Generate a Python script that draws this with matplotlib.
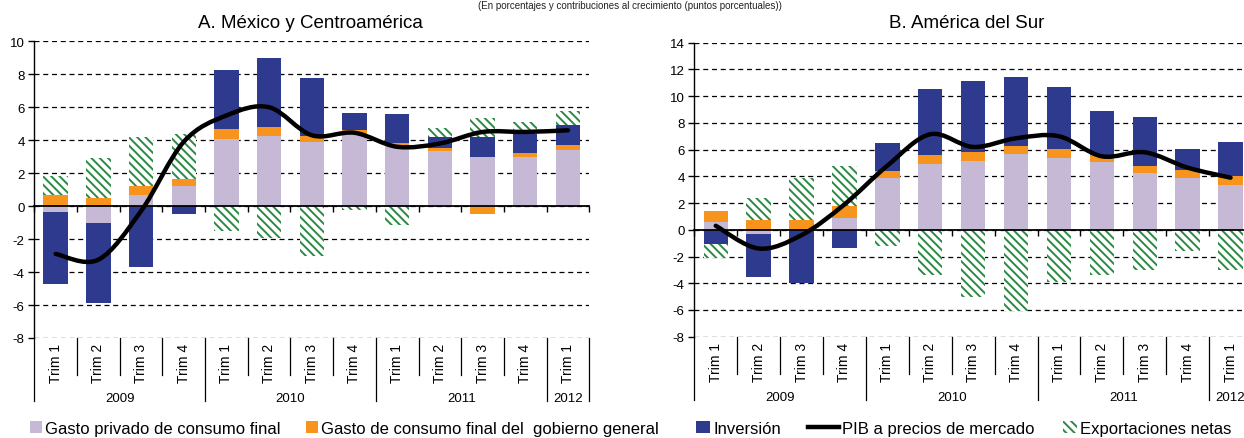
import numpy as np
import matplotlib.pyplot as plt
import matplotlib.transforms as mtransforms
from matplotlib.path import Path
from matplotlib.patches import PathPatch, Patch
from matplotlib.lines import Line2D

plt.rcParams['font.family'] = ['Liberation Sans', 'DejaVu Sans']
plt.rcParams['hatch.linewidth'] = 1.4
plt.rcParams['axes.unicode_minus'] = False

# categories
quarters = ["Trim 1", "Trim 2", "Trim 3", "Trim 4",
            "Trim 1", "Trim 2", "Trim 3", "Trim 4",
            "Trim 1", "Trim 2", "Trim 3", "Trim 4",
            "Trim 1"]
years = ["2009", "2010", "2011", "2012"]
year_sizes = [4, 4, 4, 1]

# A. Mexico y Centroamerica (contributions, percentage points)
mx_priv = [-0.35, -1.0, 0.7, 1.2, 4.1, 4.25, 3.9, 4.35, 3.7, 3.35, 3.0, 3.0, 3.4]
mx_gov = [0.7, 0.5, 0.55, 0.45, 0.55, 0.55, 0.35, 0.25, 0.1, 0.15, -0.45, 0.25, 0.3]
mx_inv = [-4.35, -4.9, -3.7, -0.5, 3.6, 4.2, 3.5, 1.05, 1.8, 0.7, 1.2, 1.1, 1.25]
mx_nx = [1.1, 2.4, 2.95, 2.75, -1.5, -1.95, -3.0, -0.25, -1.15, 0.55, 1.15, 0.75, 0.8]
mx_pib = [-2.9, -3.25, -0.3, 3.9, 5.5, 6.0, 4.3, 4.45, 3.6, 3.8, 4.5, 4.5, 4.6]

# B. America del Sur
sa_priv = [0.6, -0.3, 0.0, 0.9, 3.85, 4.9, 5.15, 5.7, 5.35, 5.05, 4.25, 3.88, 3.36]
sa_gov = [0.8, 0.7, 0.7, 0.85, 0.55, 0.7, 0.65, 0.55, 0.7, 0.55, 0.55, 0.57, 0.64]
sa_inv = [-1.1, -3.2, -3.95, -1.35, 2.1, 4.97, 5.35, 5.2, 4.65, 3.28, 3.63, 1.6, 2.6]
sa_nx = [-1.0, 1.7, 3.15, 3.0, -1.2, -3.4, -5.0, -6.05, -3.9, -3.4, -3.0, -1.55, -3.0]
sa_pib = [0.3, -1.4, -0.4, 1.9, 4.8, 7.15, 6.2, 6.85, 7.0, 5.5, 5.8, 4.65, 3.9]

labels = ["Gasto privado de consumo final",
          "Gasto de consumo final del  gobierno general",
          "Inversión", "PIB a precios de mercado", "Exportaciones netas"]

C_PRIV = '#C5B9D5'
C_GOV = '#F7941E'
C_INV = '#2E3A8E'
C_NX = '#2A8A43'
HATCH = '\\\\\\\\'

W, H = 1244, 439
fig = plt.figure(figsize=(W / 100, H / 100), dpi=100)


def px_axes(left, top, right, bottom):
    return fig.add_axes([left / W, 1 - bottom / H, (right - left) / W, (bottom - top) / H])


def smooth_line(ax, y):
    # Excel-like smoothed line: Catmull-Rom turned into cubic Bezier segments
    pts = np.column_stack([np.arange(len(y)), y]).astype(float)
    ext = np.vstack([pts[0], pts, pts[-1]])
    verts = [pts[0]]
    codes = [Path.MOVETO]
    for i in range(len(pts) - 1):
        p0, p1, p2, p3 = ext[i], ext[i + 1], ext[i + 2], ext[i + 3]
        verts += [p1 + (p2 - p0) / 6, p2 - (p3 - p1) / 6, p2]
        codes += [Path.CURVE4] * 3
    ax.add_patch(PathPatch(Path(verts, codes), fill=False, lw=3.2, edgecolor='black',
                           capstyle='round', zorder=5))


def draw_panel(ax, priv, gov, inv, nx, pib, ymin, ymax, hpx):
    n = len(priv)
    x = np.arange(n)
    pos = np.zeros(n)
    neg = np.zeros(n)
    series = [(priv, C_PRIV, None), (gov, C_GOV, None), (inv, C_INV, None), (nx, 'white', HATCH)]
    for vals, color, hatch in series:
        v = np.array(vals, dtype=float)
        base = np.where(v >= 0, pos, neg)
        if hatch:
            ax.bar(x, v, 0.57, bottom=base, facecolor='white', edgecolor=C_NX,
                   hatch=hatch, linewidth=0, zorder=3)
        else:
            ax.bar(x, v, 0.57, bottom=base, color=color, linewidth=0, zorder=3)
        pos += np.where(v >= 0, v, 0)
        neg += np.where(v < 0, v, 0)
    smooth_line(ax, pib)

    ax.set_xlim(-0.5, n - 0.5)
    ax.set_ylim(ymin, ymax)
    ax.set_yticks(range(ymin, ymax + 1, 2))
    ax.grid(axis='y', linestyle=(0, (4, 3)), color='black', linewidth=0.9)
    ax.set_axisbelow(True)
    for s in ['top', 'right']:
        ax.spines[s].set_visible(False)
    ax.spines['left'].set_linewidth(1.0)
    ax.spines['bottom'].set_position(('data', 0))
    ax.spines['bottom'].set_linewidth(1.3)
    ax.spines['bottom'].set_zorder(4)
    ax.set_xticks(np.arange(n + 1) - 0.5)
    ax.set_xticklabels([])
    ax.tick_params(axis='x', length=4, width=1, direction='out')
    ax.tick_params(axis='y', length=4, width=1, labelsize=9.5, pad=3)

    trans = mtransforms.blended_transform_factory(ax.transData, ax.transAxes)
    for i, q in enumerate(quarters):
        ax.text(i, -5 / hpx, q, rotation=90, ha='center', va='top', fontsize=10, transform=trans)
    bounds = np.cumsum([0] + year_sizes)
    short = 37 / hpx
    long = 63 / hpx
    for b in range(n + 1):
        d = long if b in bounds else short
        ax.plot([b - 0.5, b - 0.5], [0, -d], transform=trans, clip_on=False,
                color='black', lw=0.9)
    for yr, start, size in zip(years, bounds[:-1], year_sizes):
        ax.text(start + size / 2 - 0.5, -60 / hpx, yr, ha='center', va='center',
                fontsize=9.5, transform=trans)


axA = px_axes(34.3, 42.3, 589.3, 339.0)
draw_panel(axA, mx_priv, mx_gov, mx_inv, mx_nx, mx_pib, -8, 10, 339.0 - 42.3)
axB = px_axes(694.3, 43.7, 1252.0, 337.7)
draw_panel(axB, sa_priv, sa_gov, sa_inv, sa_nx, sa_pib, -8, 14, 337.7 - 43.7)

fig.text(310 / W, 1 - 27.7 / H, "A. México y Centroamérica", ha='center', va='baseline', fontsize=13.5)
fig.text(967 / W, 1 - 28.5 / H, "B. América del Sur", ha='center', va='baseline', fontsize=13.5)
fig.text(630 / W, 1 - 1 / H, "(En porcentajes y contribuciones al crecimiento (puntos porcentuales))",
         ha='center', va='top', fontsize=7, color='#222222')

handles = [Patch(facecolor=C_PRIV, linewidth=0),
           Patch(facecolor=C_GOV, linewidth=0),
           Patch(facecolor=C_INV, linewidth=0),
           Line2D([], [], color='black', lw=3.2),
           Patch(facecolor='white', edgecolor=C_NX, hatch=HATCH, linewidth=0)]
xs = [30, 306, 696, 808, 1063]
hl = [0.7, 0.7, 0.85, 1.85, 0.85]
for h, lab, xp, l in zip(handles, labels, xs, hl):
    fig.legend(handles=[h], labels=[lab], loc='center left', bbox_to_anchor=(xp / W, 9.5 / H),
               frameon=False, fontsize=12, borderpad=0, borderaxespad=0,
               handlelength=l, handleheight=0.75, handletextpad=0.2)

fig.savefig('out.png', dpi=100)
